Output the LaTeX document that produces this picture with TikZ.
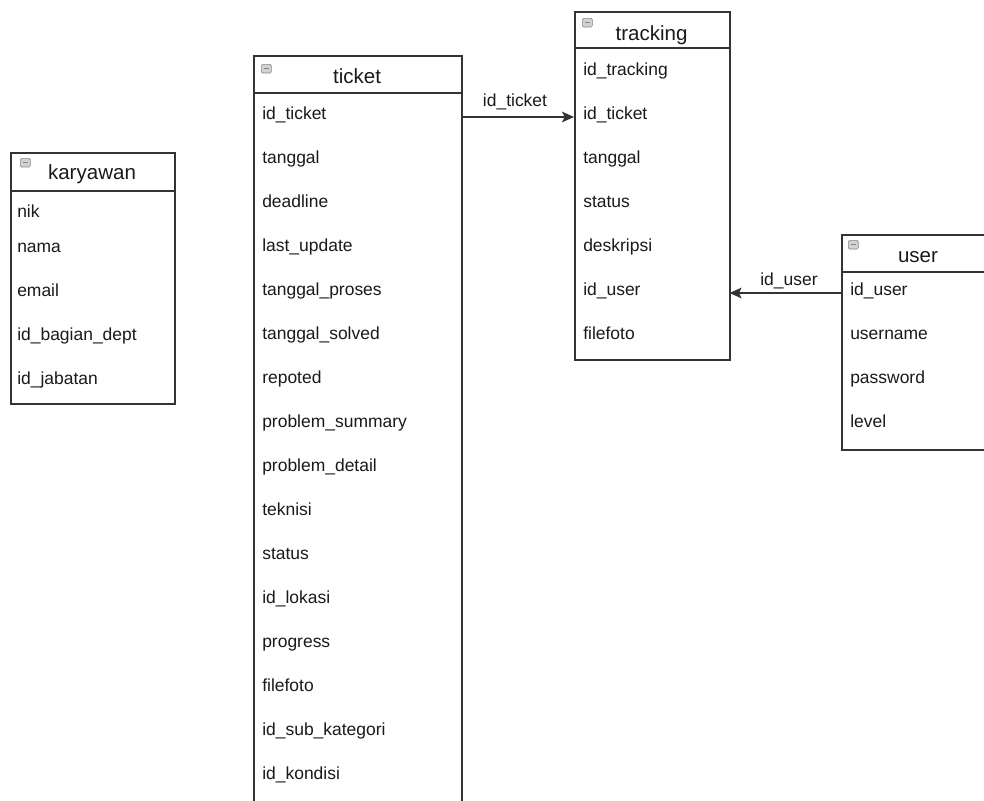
\documentclass[tikz,border=0pt]{standalone}
\usepackage{fontspec}
\setmainfont{Liberation Sans}
\usetikzlibrary{arrows.meta}
\definecolor{edgegray}{HTML}{333333}
\definecolor{inkgray}{HTML}{1A1A1A}
\definecolor{iconfill}{HTML}{D2D2D2}
\definecolor{iconline}{HTML}{888888}
\tikzset{
  tablebox/.style={draw=edgegray, line width=1.15pt, fill=white, rectangle,
    anchor=north west, inner sep=0pt},
  headline/.style={draw=edgegray, line width=1.15pt},
  tabletitle/.style={anchor=base, inner sep=0pt, text=inkgray,
    font=\fontsize{15.4}{18}\selectfont},
  field/.style={anchor=base west, inner xsep=6.75pt, inner ysep=0pt,
    text height=8pt, text depth=5pt, align=left, text=inkgray,
    font=\fontsize{13.1}{15}\selectfont},
  linklabel/.style={anchor=base, inner sep=0pt, text=inkgray,
    font=\fontsize{13.1}{15}\selectfont},
  fk/.style={draw=edgegray, line width=1.15pt,
    -{Stealth[length=9pt, width=8pt, inset=2pt]}},
  collapser/.style={draw=iconline, fill=iconfill, line width=0.5pt,
    rounded corners=1pt, anchor=north west, inner sep=0pt,
    minimum width=7.5pt, minimum height=6.5pt,
    path picture={\draw[iconline, line width=1pt]
      ([xshift=1.8pt]path picture bounding box.west) --
      ([xshift=-1.8pt]path picture bounding box.east);}},
}
\begin{document}
\begin{tikzpicture}[x=0.75pt, y=-0.75pt]
\useasboundingbox (0,0) rectangle (984,800);
\clip (0,0) rectangle (984,800);

% ---- karyawan ----
\node[tablebox, minimum width=123pt, minimum height=188.25pt] (karyawan) at (10,152) {};
\path (karyawan.north west) ++(0,39) coordinate (karyawan-hl);
\draw[headline] (karyawan-hl) -- (karyawan-hl -| karyawan.east);
\node[collapser] (karyawan-icon) at (20,158) {};
\node[tabletitle] (karyawan-title) at (92,179) {karyawan};
\foreach \f/\yy [count=\i] in {nik/217, nama/252, email/296, id\_bagian\_dept/340, id\_jabatan/384}
  \node[field, inner xsep=5.25pt, text width=112.5pt] (karyawan-\i) at (10,\yy) {\f};

% ---- ticket ----
\node[tablebox, minimum width=156pt, minimum height=570pt] (ticket) at (253,55) {};
\path (ticket.north west) ++(0,38) coordinate (ticket-hl);
\draw[headline] (ticket-hl) -- (ticket-hl -| ticket.east);
\node[collapser] (ticket-icon) at (261,64) {};
\node[tabletitle] (ticket-title) at (357,83) {ticket};
\foreach \f [count=\i] in {id\_ticket, tanggal, deadline, last\_update, tanggal\_proses,
    tanggal\_solved, repoted, problem\_summary, problem\_detail, teknisi, status,
    id\_lokasi, progress, filefoto, id\_sub\_kategori, id\_kondisi}
  \node[field, text width=142.5pt] (ticket-\i) at (253,{119+44*(\i-1)}) {\f};

% ---- tracking ----
\node[tablebox, minimum width=116.25pt, minimum height=261pt] (tracking) at (574,11) {};
\path (tracking.north west) ++(0,37) coordinate (tracking-hl);
\draw[headline] (tracking-hl) -- (tracking-hl -| tracking.east);
\node[collapser] (tracking-icon) at (582,18) {};
\node[tabletitle] (tracking-title) at (651.5,40) {tracking};
\foreach \f [count=\i] in {id\_tracking, id\_ticket, tanggal, status, deskripsi, id\_user, filefoto}
  \node[field, text width=102.75pt] (tracking-\i) at (574,{75+44*(\i-1)}) {\f};

% ---- user ----
\node[tablebox, minimum width=115.5pt, minimum height=161.25pt] (user) at (841,234) {};
\path (user.north west) ++(0,38) coordinate (user-hl);
\draw[headline] (user-hl) -- (user-hl -| user.east);
\node[collapser] (user-icon) at (848,240) {};
\node[tabletitle] (user-title) at (918,262) {user};
\foreach \f [count=\i] in {id\_user, username, password, level}
  \node[field, text width=102pt] (user-\i) at (841,{295+44*(\i-1)}) {\f};

% ---- foreign keys ----
\draw[fk] (ticket-1.east) -- (tracking-2.west);
\node[linklabel] (fk-ticket) at (515,106) {id\_ticket};
\draw[fk] (user-1.west) -- (tracking-6.east);
\node[linklabel] (fk-user) at (789,285) {id\_user};
\end{tikzpicture}
\end{document}
